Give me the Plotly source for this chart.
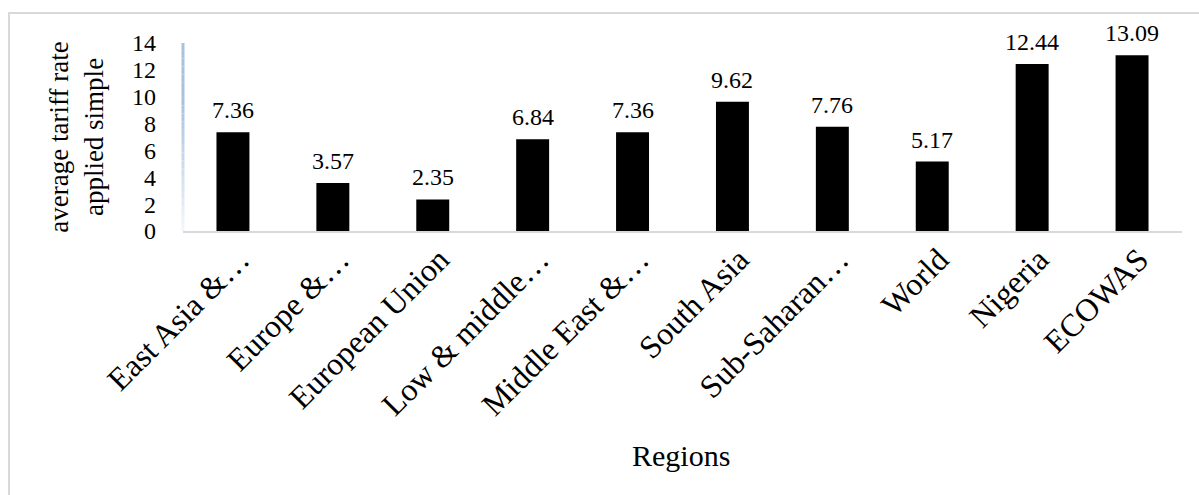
import plotly.graph_objects as go

# Simple average applied tariff rate by region
regions = [
    "East Asia &\u2026", "Europe &\u2026", "European Union", "Low & middle\u2026",
    "Middle East &\u2026", "South Asia", "Sub-Saharan\u2026", "World", "Nigeria", "ECOWAS",
]
tariff_rate = [7.36, 3.57, 2.35, 6.84, 7.36, 9.62, 7.76, 5.17, 12.44, 13.09]
y_ticks = [0, 2, 4, 6, 8, 10, 12, 14]

SERIF = "Liberation Serif, Times New Roman, serif"

fig = go.Figure(
    go.Bar(
        x=regions,
        y=tariff_rate,
        marker=dict(color="#000000", line=dict(width=0)),
        hoverinfo="x+y",
    )
)

# value labels above each bar
annotations = [
    dict(
        x=r, y=v, xref="x", yref="y", text=f"{v:.2f}", showarrow=False,
        yanchor="bottom", yshift=7,
        font=dict(family=SERIF, size=24, color="#000000"),
    )
    for r, v in zip(regions, tariff_rate)
]
annotations.append(dict(
    x=0.4985, y=-1.195, xref="paper", yref="paper", text="Regions",
    showarrow=False, xanchor="center", yanchor="middle",
    font=dict(family=SERIF, size=30, color="#000000"),
))

# faded blue value-axis line, drawn as stacked segments
shapes = []
n_seg = 24
top_rgb = (168, 193, 224)
bot_rgb = (240, 245, 251)
for i in range(n_seg):
    t = i / (n_seg - 1)
    f = 0.0 if t < 0.3 else (t - 0.3) / 0.7
    c = tuple(round(top_rgb[k] + (bot_rgb[k] - top_rgb[k]) * f) for k in range(3))
    y0 = 14 - 14 * i / n_seg
    y1 = 14 - 14 * (i + 1) / n_seg
    shapes.append(dict(
        type="line", xref="paper", yref="y", x0=0, x1=0, y0=y0, y1=y1,
        line=dict(color=f"rgb{c}", width=3), layer="above",
    ))

# chart-area frame
shapes.append(dict(
    type="rect", xref="paper", yref="paper",
    x0=-0.1742, x1=1.05, y0=-2.0, y1=1.1596,
    line=dict(color="#d9d9d9", width=2), fillcolor="rgba(0,0,0,0)", layer="below",
))

fig.update_layout(
    width=1199, height=495,
    margin=dict(l=183, r=17, t=43, b=264),
    paper_bgcolor="#ffffff", plot_bgcolor="#ffffff",
    bargap=0.67, showlegend=False,
    font=dict(family=SERIF, color="#000000"),
    annotations=annotations, shapes=shapes,
    xaxis=dict(
        type="category", tickangle=-45, showgrid=False, zeroline=False,
        showline=True, linecolor="#d9d9d9", linewidth=2, ticks="",
        ticklabelshift=7, ticklabelstandoff=-5,
        tickfont=dict(family=SERIF, size=32, color="#000000"),
    ),
    yaxis=dict(
        range=[0, 14], tickvals=y_ticks, ticktext=[str(t) for t in y_ticks],
        showgrid=False, zeroline=False, showline=False, ticks="",
        ticklabelstandoff=26,
        tickfont=dict(family=SERIF, size=24, color="#000000"),
        title=dict(
            text="average tariff rate<br>applied simple", standoff=20,
            font=dict(family=SERIF, size=27, color="#000000"),
        ),
    ),
)

fig.write_html("out.html")
